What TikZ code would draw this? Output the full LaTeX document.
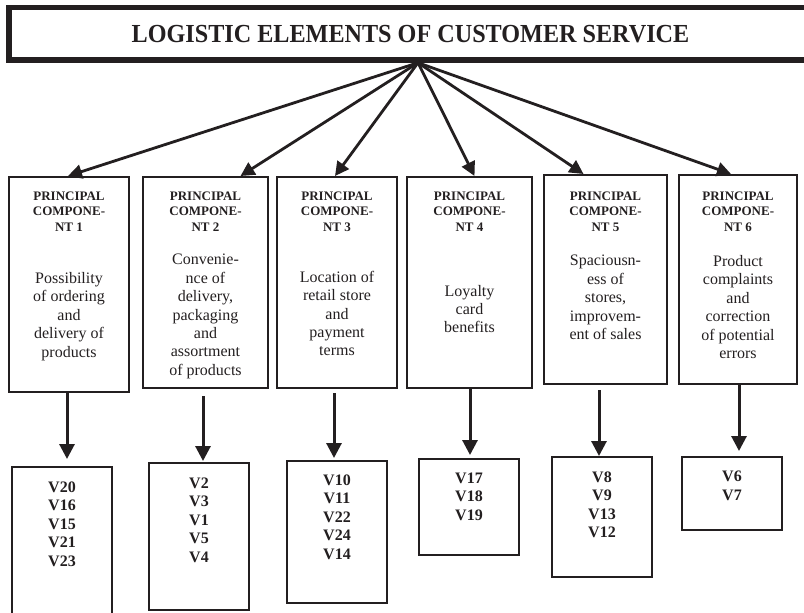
\documentclass[tikz,border=0pt]{standalone}
\usepackage{fontspec}
\setmainfont{Liberation Serif}
\newfontfamily\titlefont[FakeStretch=0.93]{Liberation Serif}
\usetikzlibrary{arrows.meta,calc}
\definecolor{ink}{HTML}{231F20}
\begin{document}
\begin{tikzpicture}[x=1pt,y=-1pt,
  titlebox/.style={draw=ink, line width=5.5pt, inner sep=0pt, minimum width=803pt, minimum height=52.5pt,
    font=\titlefont\fontsize{26}{30}\selectfont\bfseries, text=ink},
  box/.style={draw=ink, line width=2pt, inner sep=0pt},
  head/.style={font=\fontsize{13}{15.5}\selectfont\bfseries, align=center, inner sep=0pt, text=ink},
  desc/.style={font=\fontsize{16}{18.4}\selectfont, align=center, inner sep=0pt, text=ink},
  vars/.style={font=\fontsize{16}{18.5}\selectfont\bfseries, align=center, inner sep=0pt, text=ink},
  tarr/.style={draw=ink, line width=2.8pt, -{Triangle[width=14pt,length=14pt]}},
  darr/.style={draw=ink, line width=3pt, -{Triangle[width=15pt,length=15pt]}}
]
\useasboundingbox (0,0) rectangle (804,613);
\clip (0,0) rectangle (804,613);

% title
\node[titlebox] (title) at (410.5,33.75) {LOGISTIC ELEMENTS OF CUSTOMER SERVICE};
\coordinate (apex) at ($(title.south)+(7.5,0)$);

% principal component boxes
\node[box, minimum width=120pt, minimum height=215pt] (p1) at (69,284.5) {};
\node[box, minimum width=125pt, minimum height=211pt] (p2) at (205.5,282.5) {};
\node[box, minimum width=120pt, minimum height=211pt] (p3) at (337,282.5) {};
\node[box, minimum width=125pt, minimum height=211pt] (p4) at (469.5,282.5) {};
\node[box, minimum width=123pt, minimum height=209pt] (p5) at (605.5,279.5) {};
\node[box, minimum width=118pt, minimum height=209pt] (p6) at (738,279.5) {};

\node[head] (h1) at (69,211.5) {PRINCIPAL\\COMPONE-\\NT 1};
\node[head] (h2) at (205.5,211.5) {PRINCIPAL\\COMPONE-\\NT 2};
\node[head] (h3) at (337,211.5) {PRINCIPAL\\COMPONE-\\NT 3};
\node[head] (h4) at (469.5,211.5) {PRINCIPAL\\COMPONE-\\NT 4};
\node[head] (h5) at (605.5,211.5) {PRINCIPAL\\COMPONE-\\NT 5};
\node[head] (h6) at (738,211.5) {PRINCIPAL\\COMPONE-\\NT 6};

\node[desc] (d1) at (69,316.5) {Possibility\\of ordering\\and\\delivery of\\products};
\node[desc] (d2) at (205.5,316.5) {Convenie-\\nce of\\delivery,\\packaging\\and\\assortment\\of products};
\node[desc] (d3) at (337,313.5) {Location of\\retail store\\and\\payment\\terms};
\node[desc] (d4) at (469.5,309) {Loyalty\\card\\benefits};
\node[desc] (d5) at (605.5,297.5) {Spaciousn-\\ess of\\stores,\\improvem-\\ent of sales};
\node[desc] (d6) at (738,307) {Product\\complaints\\and\\correction\\of potential\\errors};

% variable boxes
\node[box, minimum width=100pt, minimum height=158pt] (v1) at (62,546) {};
\node[box, minimum width=100pt, minimum height=147pt] (v2) at (199,536.5) {};
\node[box, minimum width=100pt, minimum height=142pt] (v3) at (337,532) {};
\node[box, minimum width=100pt, minimum height=96pt] (v4) at (469,507) {};
\node[box, minimum width=100pt, minimum height=120pt] (v5) at (602,517) {};
\node[box, minimum width=100pt, minimum height=73pt] (v6) at (732,493.5) {};

\node[vars] (t1) at (62,524) {V20\\V16\\V15\\V21\\V23};
\node[vars] (t2) at (199,520) {V2\\V3\\V1\\V5\\V4};
\node[vars] (t3) at (337,517) {V10\\V11\\V22\\V24\\V14};
\node[vars] (t4) at (469,496.5) {V17\\V18\\V19};
\node[vars] (t5) at (602,505) {V8\\V9\\V13\\V12};
\node[vars] (t6) at (732,486) {V6\\V7};

% arrows from title
\draw[tarr] (apex) -- ($(p1.north)+(-1,0)$);
\draw[tarr] (apex) -- ($(p2.north)+(35,0)$);
\draw[tarr] (apex) -- ($(p3.north)+(-2,0)$);
\draw[tarr] (apex) -- ($(p4.north)+(5,0)$);
\draw[tarr] (apex) -- ($(p5.north)+(-22,0)$);
\draw[tarr] (apex) -- ($(p6.north)+(-7,0)$);

% arrows down
\draw[darr, shorten >=7pt] ([xshift=-2pt]p1.south) -- ([xshift=-2pt]p1.south |- v1.north);
\draw[darr, shorten <=7pt, shorten >=1pt] ([xshift=-2.5pt]p2.south) -- ([xshift=-2.5pt]p2.south |- v2.north);
\draw[darr, shorten <=4pt, shorten >=2pt] ([xshift=-3pt]p3.south) -- ([xshift=-3pt]p3.south |- v3.north);
\draw[darr, shorten >=3pt] ([xshift=0.5pt]p4.south) -- ([xshift=0.5pt]p4.south |- v4.north);
\draw[darr, shorten <=5pt] ([xshift=-6.5pt]p5.south) -- ([xshift=-6.5pt]p5.south |- v5.north);
\draw[darr, shorten >=5pt] ([xshift=1pt]p6.south) -- ([xshift=1pt]p6.south |- v6.north);
\end{tikzpicture}
\end{document}
